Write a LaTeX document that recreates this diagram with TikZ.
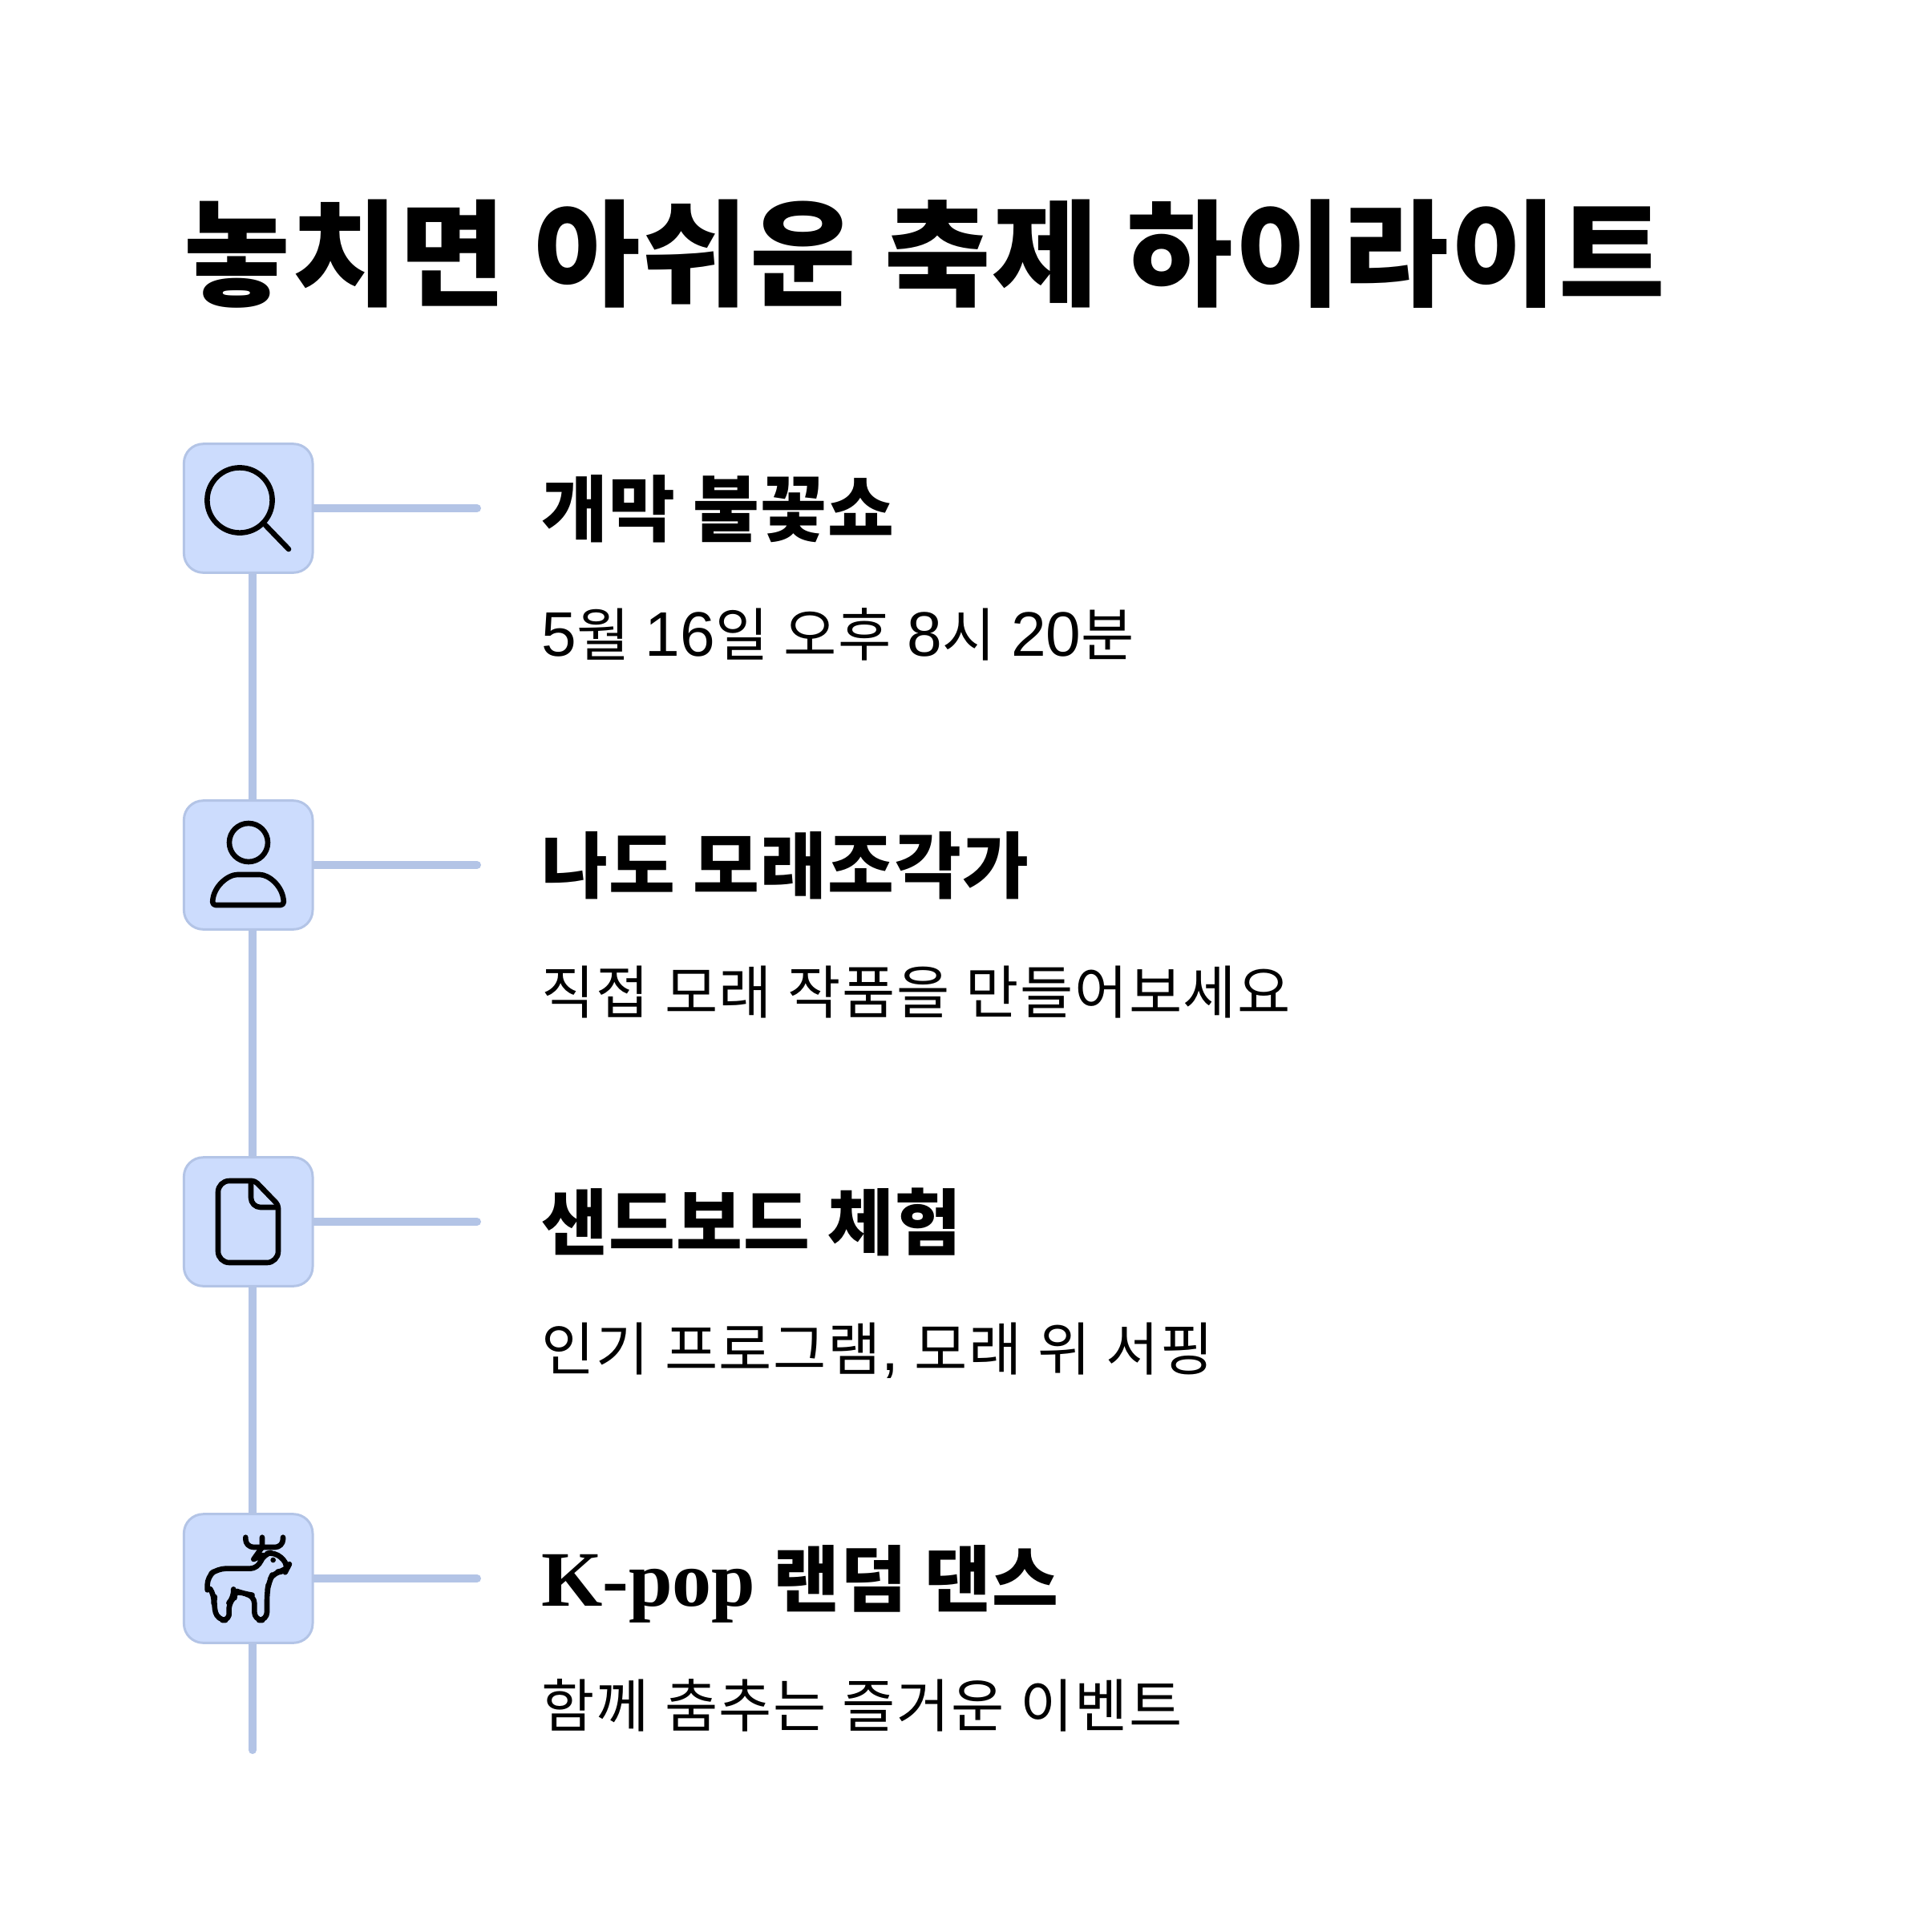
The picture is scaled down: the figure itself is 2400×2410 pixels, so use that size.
\documentclass[tikz,border=0pt]{standalone}
\usepackage{fontspec}
\usetikzlibrary{backgrounds}
\setmainfont{Noto Sans CJK KR}
\newfontfamily\titlefont[LetterSpace=1.5]{Noto Sans CJK KR}
\newfontfamily\headfont[LetterSpace=1.5]{Noto Sans CJK KR}
\newfontfamily\subfont[LetterSpace=2.3, WordSpace=1.1]{Noto Sans CJK KR}
\newfontfamily\digitfont[Scale=1.09]{Liberation Sans}
\newfontfamily\seriffont[Scale=1.09]{Liberation Serif}
\definecolor{boxfill}{RGB}{204, 220, 253}
\definecolor{linkblue}{RGB}{179, 196, 230}
\tikzset{
	itembox/.style={draw=linkblue, fill=boxfill, line width=1.5pt, rounded corners=12pt, minimum size=80.3pt, inner sep=0pt},
	linkline/.style={draw=linkblue, line width=5pt, line cap=round},
	iconline/.style={draw=black, line width=3.3pt, line join=round, line cap=round},
	titletext/.style={anchor=base west, inner sep=0pt, font=\fontsize{72}{80}\titlefont\bfseries},
	headtext/.style={anchor=base west, inner sep=0pt, font=\fontsize{45}{50}\headfont\bfseries},
	subtext/.style={anchor=base west, inner sep=0pt, font=\fontsize{36}{40}\subfont}
}
\begin{document}
\begin{tikzpicture}[x=0.5pt, y=-0.5pt]
	\useasboundingbox (0,0) rectangle (2400,2410);

	\node[titletext] (title) at (229,370) {놓치면 아쉬운 축제 하이라이트};

	\node[itembox] (box1) at (309.7,634) {};
	\node[itembox] (box2) at (309.7,1079) {};
	\node[itembox] (box3) at (309.7,1524) {};
	\node[itembox] (box4) at (309.7,1969) {};

	\coordinate (spine) at (315,0); % trunk sits a little right of the box centres
	\coordinate (stub1) at (595,634);
	\coordinate (stub2) at (595,1079);
	\coordinate (stub3) at (595,1524);
	\coordinate (stub4) at (595,1969);
	\coordinate (trunkend) at (315,2183);

	\begin{scope}[on background layer]
		\draw[linkline] (box1.center -| spine) -- (box2.center -| spine);
		\draw[linkline] (box2.center -| spine) -- (box3.center -| spine);
		\draw[linkline] (box3.center -| spine) -- (box4.center -| spine);
		\draw[linkline] (box4.center -| spine) -- (trunkend);
		\draw[linkline] (box1.center) -- (stub1);
		\draw[linkline] (box2.center) -- (stub2);
		\draw[linkline] (box3.center) -- (stub3);
		\draw[linkline] (box4.center) -- (stub4);
	\end{scope}

	\node[headtext] (head1) at (675,668) {개막 불꽃쇼};
	\node[subtext] (sub1) at (675,818) {{\digitfont 5}월 {\digitfont 16}일 오후 {\digitfont 8}시 {\digitfont 20}분};
	\node[headtext] (head2) at (675,1113) {나도 모래조각가};
	\node[subtext] (sub2) at (675,1264) {직접 모래 작품을 만들어보세요};
	\node[headtext] (head3) at (675,1558) {샌드보드 체험};
	\node[subtext] (sub3) at (675,1709) {인기 프로그램{\digitfont ,} 모래 위 서핑};
	\node[headtext] (head4) at (675,2003) {{\seriffont K-pop} 랜덤 댄스};
	\node[subtext] (sub4) at (675,2154) {함께 춤추는 즐거운 이벤트};

	% magnifier
	\draw[iconline] (299,624) circle (20.3pt);
	\draw[iconline] (331,655) -- (360,685);

	% person
	\draw[iconline] (310,1051) circle (12pt);
	\draw[iconline, rounded corners=2pt] (265,1129) .. controls (266,1105) and (285,1091) .. (300,1091) -- (320,1091) .. controls (335,1091) and (353,1105) .. (354,1129) -- cycle;

	% document
	\draw[iconline, rounded corners=7pt] (272,1473) [rounded corners=2pt] -- (318,1473) -- (347,1503) [rounded corners=7pt] -- (347,1575) -- (272,1575) -- cycle;
	\draw[iconline, rounded corners=6pt, line cap=butt] (313,1473) -- (313,1506) -- (347,1506);

	% deer
	\begin{scope}[shift={(228,1895)}, scale=1/3]
		\draw[iconline, rounded corners=5pt] (92,265) -- (92,215) -- (130,185) -- (282,185) -- (300,132) -- (345,122) -- (397,172) -- (385,195) -- (340,198) -- (322,235) -- (315,275) -- (315,378) -- (268,378) -- (268,285) -- (230,280) -- (190,265) -- (193,292) -- (168,318) -- (178,378) -- (130,378) -- (115,320) -- (120,285) -- (105,265);
		\draw[iconline, rounded corners=5pt] (235,68) -- (235,105) -- (375,105) -- (375,68);
		\draw[iconline] (297,68) -- (297,105) -- (265,150) -- (300,135);
		\fill (338,153) circle (5pt);
	\end{scope}
\end{tikzpicture}
\end{document}
